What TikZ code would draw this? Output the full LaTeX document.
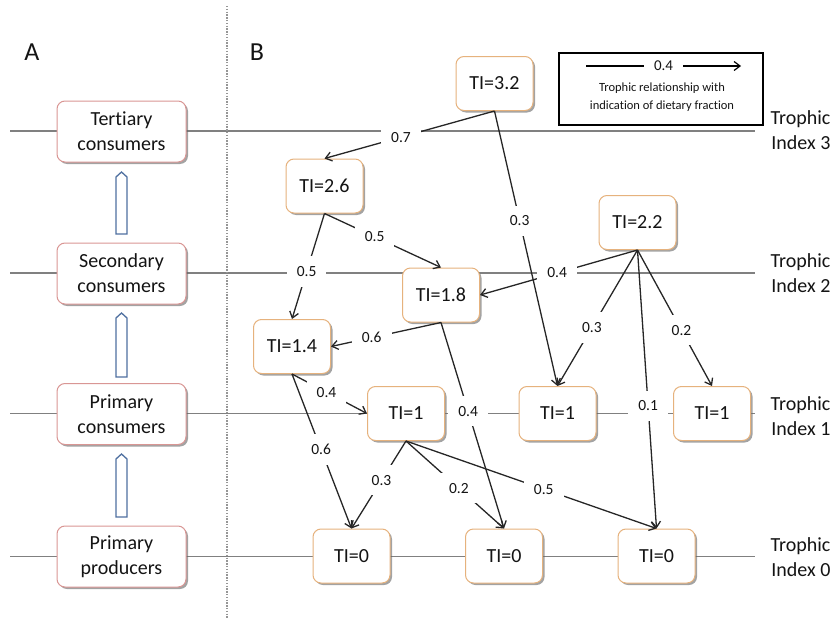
\documentclass[tikz,border=0pt]{standalone}
\usepackage{fontspec}
\setmainfont{Carlito}[Ligatures={NoCommon,NoRare,NoContextual}]
\usetikzlibrary{arrows.meta,shadows}
\pgfdeclarelayer{background}
\pgfsetlayers{background,main}
\definecolor{pinkbord}{RGB}{217,150,148}
\definecolor{tanbord}{RGB}{230,178,125}
\definecolor{idxgray}{RGB}{128,128,128}
\definecolor{blockblue}{RGB}{79,112,160}
\definecolor{sepgray}{RGB}{150,150,150}
\definecolor{txt}{RGB}{20,20,20}
\begin{document}
\begin{tikzpicture}[x=1pt,y=-1pt,
  catbox/.style={draw=pinkbord, line width=1pt, fill=white, rounded corners=8pt,
    minimum width=129pt, minimum height=61pt, align=center, text=txt,
    font=\fontsize{20}{25}\selectfont,
    drop shadow={shadow xshift=2pt,shadow yshift=-2pt,opacity=0.6,fill=black!60}},
  tibox/.style={draw=tanbord, line width=1pt, fill=white, rounded corners=8pt,
    minimum width=77pt, minimum height=54pt, text=txt,
    font=\fontsize{20}{24}\selectfont,
    drop shadow={shadow xshift=2pt,shadow yshift=-2pt,opacity=0.6,fill=black!60}},
  idxline/.style={draw=idxgray, line width=1.2pt},
  feed/.style={draw=black!85, line width=1.3pt, -{Straight Barb[length=6pt,width=9pt]}},
  lab/.style={fill=white, text=txt, font=\fontsize{15.5}{18}\selectfont, inner xsep=10pt, inner ysep=10pt},
  idxlab/.style={anchor=east, align=right, text=txt, font=\fontsize{20}{25}\selectfont},
  blockarrow/.style={draw=blockblue, line width=1.3pt, fill=white, line join=miter},
  panel/.style={text=txt, font=\fontsize{26}{30}\selectfont}
]
\useasboundingbox (0,0) rectangle (839,621);

% panel letters
\node[panel] (pA) at (32,52) {A};
\node[panel] (pB) at (257,52) {B};

% separator
\coordinate (s1) at (227,6);
\coordinate (s2) at (227,618);
\draw[sepgray, line width=1.2pt, dash pattern=on 1.4pt off 1.4pt] (s1) -- (s2);

% index lines
\begin{pgfonlayer}{background}
\coordinate (l3a) at (10,131); \coordinate (l3b) at (755,131);
\coordinate (l2a) at (10,273); \coordinate (l2b) at (755,273);
\coordinate (l1a) at (10,413.5); \coordinate (l1b) at (755,413.5);
\coordinate (l0a) at (10,556.5); \coordinate (l0b) at (755,556.5);
\draw[idxline] (l3a) -- (l3b);
\draw[idxline] (l2a) -- (l2b);
\draw[idxline] (l1a) -- (l1b);
\draw[idxline] (l0a) -- (l0b);
\end{pgfonlayer}

% panel A
\node[catbox] (A3) at (121.5,131.5) {Tertiary\\consumers};
\node[catbox] (A2) at (121.5,273.5) {Secondary\\consumers};
\node[catbox] (A1) at (121.5,414) {Primary\\consumers};
\node[catbox] (A0) at (121.5,556.5) {Primary\\producers};

\draw[blockarrow] (116,234) -- (116,177) -- (121.5,172) -- (127,177) -- (127,234) -- cycle;
\draw[blockarrow] (116,377) -- (116,318) -- (121.5,313) -- (127,318) -- (127,377) -- cycle;
\draw[blockarrow] (116,517) -- (116,459) -- (121.5,454) -- (127,459) -- (127,517) -- cycle;

% index labels
\node[idxlab] (i3) at (834,130) {Trophic\\Index 3};
\node[idxlab] (i2) at (834,273) {Trophic\\Index 2};
\node[idxlab] (i1) at (834,416) {Trophic\\Index 1};
\node[idxlab] (i0) at (834,557) {Trophic\\Index 0};

% legend
\node[draw=black, line width=2pt, minimum width=204pt, minimum height=72pt, inner sep=0pt] (leg) at (660.5,88.5) {};
\coordinate (lg1) at (586,66);
\coordinate (lg2) at (741,66);
\draw[line width=1.2pt, -{Straight Barb[length=6pt,width=9pt]}] (lg1) -- node[lab, font=\fontsize{15}{18}\selectfont, inner ysep=2pt] {0.4} (lg2);
\node[align=center, text=txt, font=\fontsize{12.5}{18}\selectfont] (legtxt) at (662,97) {Trophic relationship with\\indication of dietary fraction};

% panel B nodes
\node[tibox] (t32) at (494.5,83.5) {TI=3.2};
\node[tibox] (t26) at (324.5,186) {TI=2.6};
\node[tibox] (t18) at (441,295) {TI=1.8};
\node[tibox] (t22) at (637.5,222.5) {TI=2.2};
\node[tibox] (t14) at (292,346.5) {TI=1.4};
\node[tibox] (t1a) at (406,413.5) {TI=1};
\node[tibox] (t1b) at (557.5,413.5) {TI=1};
\node[tibox] (t1c) at (712,413.5) {TI=1};
\node[tibox] (t0a) at (351.5,556) {TI=0};
\node[tibox] (t0b) at (504,556) {TI=0};
\node[tibox] (t0c) at (656.5,556) {TI=0};

% feeding links
\draw[feed] (t32.south) -- node[lab, pos=0.55] {0.7} (t26.north);
\draw[feed] (t32.south) -- node[lab, pos=0.4] {0.3} (t1b.north);
\draw[feed] (t26.south) -- node[lab, pos=0.43] {0.5} (t18.north);
\draw[feed] (t26.south) -- node[lab, pos=0.55] {0.5} (t14.north);
\draw[feed] (t22.south) -- node[lab, pos=0.51] {0.4} (t18.east);
\draw[feed] (t22.south) -- node[lab, pos=0.57] {0.3} (t1b.north);
\draw[feed] (t22.south) -- node[lab, pos=0.56] {0.1} (t0c.north);
\draw[feed] (t22.south) -- node[lab, pos=0.59] {0.2} (t1c.north);
\draw[feed] (t18.south) -- node[lab, pos=0.63] {0.6} (t14.east);
\draw[feed] (t18.south) -- node[lab, pos=0.43] {0.4} (t0b.north);
\draw[feed] (t14.south) -- node[lab, pos=0.46] {0.4} (t1a.west);
\draw[feed] (t14.south) -- node[lab, pos=0.49] {0.6} (t0a.north);
\draw[feed] (t1a.south) -- node[lab, pos=0.45] {0.3} (t0a.north);
\draw[feed] (t1a.south) -- node[lab, pos=0.54] {0.2} (t0b.north);
\draw[feed] (t1a.south) -- node[lab, pos=0.55] {0.5} (t0c.north);
\end{tikzpicture}
\end{document}
